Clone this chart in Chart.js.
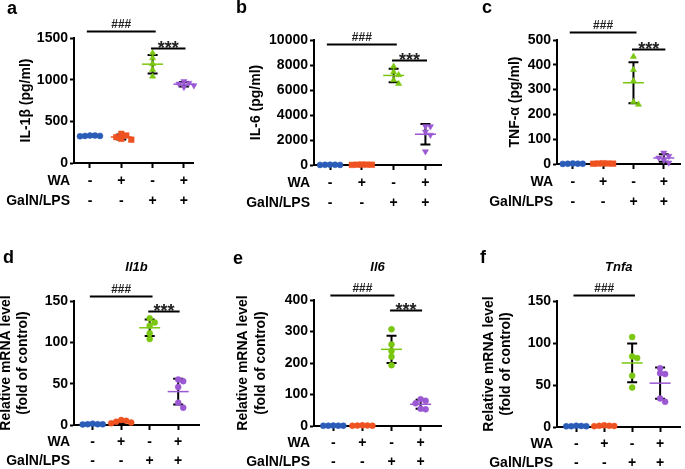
<!DOCTYPE html>
<html>
<head>
<meta charset="utf-8">
<script src="https://cdn.jsdelivr.net/npm/chart.js@4.4.1/dist/chart.umd.min.js"></script>
<style>
  html, body { margin: 0; padding: 0; background: #fff; }
  #figure { position: relative; width: 685px; height: 469px; overflow: hidden; }
  #figure canvas { position: absolute; }
</style>
</head>
<body>
<div id="figure">
  <canvas id="panelA" width="228" height="234" style="left:0;top:0"></canvas>
  <canvas id="panelB" width="227" height="234" style="left:228px;top:0"></canvas>
  <canvas id="panelC" width="230" height="234" style="left:455px;top:0"></canvas>
  <canvas id="panelD" width="228" height="235" style="left:0;top:234px"></canvas>
  <canvas id="panelE" width="227" height="235" style="left:228px;top:234px"></canvas>
  <canvas id="panelF" width="230" height="235" style="left:455px;top:234px"></canvas>
</div>
<script>
// groups along the x axis
const groupLabels = ['Control', 'WA', 'GalN/LPS', 'WA + GalN/LPS'];
const waSigns = ['-', '+', '-', '+'];
const galnSigns = ['-', '-', '+', '+'];
const groupColors = ['#2a5cb8', '#ef5221', '#7ac70f', '#9a58d3'];

// serum cytokines (pg/ml), 5 mice per group
const il1bSerum = [[330, 325, 320, 330, 325], [350, 330, 310, 290, 280], [1320, 1260, 1190, 1120, 1040], [980, 960, 950, 930, 910]];
const il6Serum = [[20, 10, 15, 5, 25], [30, 20, 10, 40, 25], [7880, 7450, 7200, 6800, 6500], [3100, 3080, 2650, 2400, 1080]];
const tnfSerum = [[1, 2, 1, 0.5, 1.5], [2, 1, 3, 1.5, 2], [433, 380, 335, 250, 240], [45, 32, 25, 15, 5]];

// hepatic mRNA (fold of control)
const il1bMrna = [[1.5, 1, 1, 0.8, 0.7], [6, 5, 4, 3, 2], [129, 124, 120, 111, 104], [55, 53, 46, 27, 21]];
const il6Mrna = [[1, 1.2, 0.8, 1, 0.9], [1.5, 1, 2, 1.2, 0.8], [307, 259, 238, 220, 193], [85, 80, 72, 55, 53]];
const tnfaMrna = [[1, 1.5, 0.8, 1.2, 1], [1.5, 1, 2, 1.2, 1.4], [107, 84, 82, 61, 47], [70, 64, 63, 34, 30]];

// y axis ranges and significance marks
const yMaxes = [1500, 10000, 500, 150, 400, 150];
const ySteps = [500, 2000, 100, 50, 100, 50];
const hashLevels = [1580, 9650, 531, 156, 416, 157];
const starLevels = [1379, 8376, 464, 138, 367, null];

Chart.defaults.font.family = "'Liberation Sans', Arial, sans-serif";
Chart.defaults.color = '#000';

const FONT = "'Liberation Sans', Arial, sans-serif";
const topShapes = ['circle', 'rect', 'triangle', 'triangle'];
const topRotations = [0, 0, 0, 180];
const topRadius = [3, 4, 3.6, 3.6];

const panels = [
    { id: 'panelA', letter: 'a', lx: 7, ly: 14, values: il1bSerum, yTitle: 'IL-1β (pg/ml)', titlePad: 17.6,
      yWidth: 74, xHeight: 71, top: 38, right: 35, xMin: 0.49, xMax: 4.29, row: 0 },
    { id: 'panelB', letter: 'b', lx: 8, ly: 13, values: il6Serum, yTitle: 'IL-6 (pg/ml)', titlePad: 19.9,
      yWidth: 86, xHeight: 69, top: 40, right: 14, xMin: 0.495, xMax: 4.49, row: 0 },
    { id: 'panelC', letter: 'c', lx: 27, ly: 13, values: tnfSerum, yTitle: 'TNF-α (pg/ml)', titlePad: 51.6,
      yWidth: 102, xHeight: 70, top: 40, right: 2, xMin: 0.48, xMax: 4.55, row: 0 },
    { id: 'panelD', letter: 'd', lx: 3, ly: 29, values: il1bMrna, gene: 'Il1b', titlePad: -3,
      yWidth: 74, xHeight: 44, top: 67, right: 29, xMin: 0.344, xMax: 4.73, row: 1 },
    { id: 'panelE', letter: 'e', lx: 5, ly: 30, values: il6Mrna, gene: 'Il6', titlePad: 6.5,
      yWidth: 86, xHeight: 43, top: 66, right: 14, xMin: 0.337, xMax: 4.70, row: 1 },
    { id: 'panelF', letter: 'f', lx: 25, ly: 29, values: tnfaMrna, gene: 'Tnfa', titlePad: 25,
      yWidth: 102, xHeight: 42, top: 67, right: 0, xMin: 0.31, xMax: 4.73, row: 1 }
];

function mean(a) { return a.reduce((s, v) => s + v, 0) / a.length; }
function sd(a) {
    const m = mean(a);
    return Math.sqrt(a.reduce((s, v) => s + (v - m) * (v - m), 0) / (a.length - 1));
}

const TICK_LEN = 5;
const LINE_H = 19.5;

const dotPlotPlugin = {
    id: 'dotPlot',
    beforeDatasetsDraw(chart, args, opts) {
        const ctx = chart.ctx, xs = chart.scales.x, ys = chart.scales.y;
        ctx.save();
        opts.values.forEach((vals, g) => {
            const m = mean(vals), s = sd(vals);
            const cx = xs.getPixelForValue(g + 1);
            const yTop = ys.getPixelForValue(m + s), yBot = ys.getPixelForValue(m - s);
            ctx.strokeStyle = '#000';
            ctx.lineWidth = 2;
            ctx.beginPath();
            ctx.moveTo(cx, yTop); ctx.lineTo(cx, yBot);
            ctx.moveTo(cx - 5, yTop); ctx.lineTo(cx + 5, yTop);
            ctx.moveTo(cx - 5, yBot); ctx.lineTo(cx + 5, yBot);
            ctx.stroke();
            const ym = ys.getPixelForValue(m);
            ctx.strokeStyle = groupColors[g];
            ctx.lineWidth = 1.5;
            ctx.beginPath();
            ctx.moveTo(cx - 10.5, ym); ctx.lineTo(cx + 10.5, ym);
            ctx.stroke();
        });
        ctx.restore();
    },
    afterDraw(chart, args, opts) {
        const ctx = chart.ctx, xs = chart.scales.x, ys = chart.scales.y, area = chart.chartArea;
        ctx.save();
        // significance bars
        const bar = (x1, x2, level, text, font, dy) => {
            const y = Math.round(ys.getPixelForValue(level)) + 0.5;
            const px1 = xs.getPixelForValue(x1), px2 = xs.getPixelForValue(x2);
            ctx.strokeStyle = '#000';
            ctx.lineWidth = 2;
            ctx.beginPath(); ctx.moveTo(px1, y); ctx.lineTo(px2, y); ctx.stroke();
            ctx.fillStyle = '#222';
            ctx.font = font;
            ctx.textAlign = 'center';
            ctx.textBaseline = 'alphabetic';
            ctx.fillText(text, (px1 + px2) / 2, y + dy);
        };
        bar(0.9, 3.1, opts.hash, '###', 'bold 12px ' + FONT, -3.5);
        if (opts.star !== null) bar(2.95, 4.05, opts.star, '***', 'bold 18px ' + FONT, 5);

        // treatment row labels
        ctx.fillStyle = '#000';
        ctx.font = 'bold 14px ' + FONT;
        ctx.textAlign = 'right';
        ctx.textBaseline = 'middle';
        const y0 = area.bottom + TICK_LEN + opts.tickPad + LINE_H / 2;
        ctx.fillText('WA', area.left - 4, y0);
        ctx.fillText('GalN/LPS', area.left - 4, y0 + LINE_H);

        // panel letter
        ctx.textAlign = 'left';
        ctx.textBaseline = 'alphabetic';
        ctx.font = 'bold 18px ' + FONT;
        ctx.fillText(opts.letter, opts.lx, opts.ly);

        // gene name
        if (opts.gene) {
            ctx.font = 'italic bold 13px ' + FONT;
            ctx.textAlign = 'center';
            ctx.fillText(opts.gene, (area.left + area.right) / 2, 37);
        }
        ctx.restore();
    }
};

function spreadPoints(chart, values) {
    const xs = chart.scales.x, ys = chart.scales.y;
    const unit = xs.getPixelForValue(2) - xs.getPixelForValue(1);
    const step = 5;
    chart.data.datasets.forEach((ds, g) => {
        const vals = values[g];
        const placed = [];
        const order = vals.map((v, i) => i).sort((a, b) => vals[b] - vals[a]);
        order.forEach(i => {
            const py = ys.getPixelForValue(vals[i]);
            let dx = 0;
            for (let k = 0; k < 20; k++) {
                const cand = k === 0 ? 0 : (k % 2 ? 1 : -1) * Math.ceil(k / 2) * step;
                if (placed.every(q => Math.hypot(q.dx - cand, q.py - py) >= step)) { dx = cand; break; }
            }
            placed.push({ dx, py });
            ds.data[i] = { x: g + 1 + dx / unit, y: vals[i] };
        });
    });
    chart.update('none');
}

panels.forEach((p, idx) => {
    const tickPad = p.row === 0 ? 3.5 : 2;
    const yTitle = p.row === 0 ? p.yTitle : ['Relative mRNA level', '(fold of control)'];
    const ctx = document.getElementById(p.id).getContext('2d');
    const chart = new Chart(ctx, {
        type: 'scatter',
        data: {
            datasets: p.values.map((vals, g) => ({
                label: groupLabels[g],
                data: vals.map(v => ({ x: g + 1, y: v })),
                pointStyle: p.row === 0 ? topShapes[g] : 'circle',
                rotation: p.row === 0 ? topRotations[g] : 0,
                pointRadius: p.row === 0 ? topRadius[g] : 3,
                pointBackgroundColor: groupColors[g],
                pointBorderColor: groupColors[g],
                pointBorderWidth: 0.5,
                showLine: false,
                clip: false
            }))
        },
        options: {
            responsive: false,
            animation: false,
            devicePixelRatio: 1,
            events: [],
            layout: { padding: { top: p.top, right: p.right, left: 0, bottom: 0 } },
            plugins: {
                legend: { display: false },
                tooltip: { enabled: false },
                dotPlot: {
                    values: p.values, hash: hashLevels[idx], star: starLevels[idx],
                    letter: p.letter, lx: p.lx, ly: p.ly, gene: p.gene, tickPad: tickPad
                }
            },
            scales: {
                x: {
                    type: 'linear',
                    min: p.xMin,
                    max: p.xMax,
                    afterBuildTicks: s => { s.ticks = groupLabels.map((_, i) => ({ value: i + 1 })); },
                    afterFit: s => { s.height = p.xHeight; },
                    ticks: {
                        autoSkip: false, maxRotation: 0, color: '#000', padding: tickPad,
                        font: { size: 14, weight: 'bold', lineHeight: LINE_H / 14 },
                        callback: (v, i) => [waSigns[i], galnSigns[i]]
                    },
                    grid: { drawOnChartArea: false, tickLength: TICK_LEN, tickColor: '#000', tickWidth: 2 },
                    border: { color: '#000', width: 2 }
                },
                y: {
                    min: 0,
                    max: yMaxes[idx],
                    afterFit: s => { s.width = p.yWidth; },
                    ticks: {
                        stepSize: ySteps[idx], color: '#000', padding: 2,
                        font: { size: 14, weight: 'bold' },
                        callback: v => String(v)
                    },
                    grid: { drawOnChartArea: false, tickLength: 4, tickColor: '#000', tickWidth: 2 },
                    border: { color: '#000', width: 2 },
                    title: {
                        display: true, text: yTitle, color: '#000',
                        font: { size: 14, weight: 'bold', lineHeight: p.row === 0 ? 1.2 : 1.25 },
                        padding: { top: p.titlePad, bottom: 0 }
                    }
                }
            }
        },
        plugins: [dotPlotPlugin]
    });
    spreadPoints(chart, p.values);
});
</script>
</body>
</html>
